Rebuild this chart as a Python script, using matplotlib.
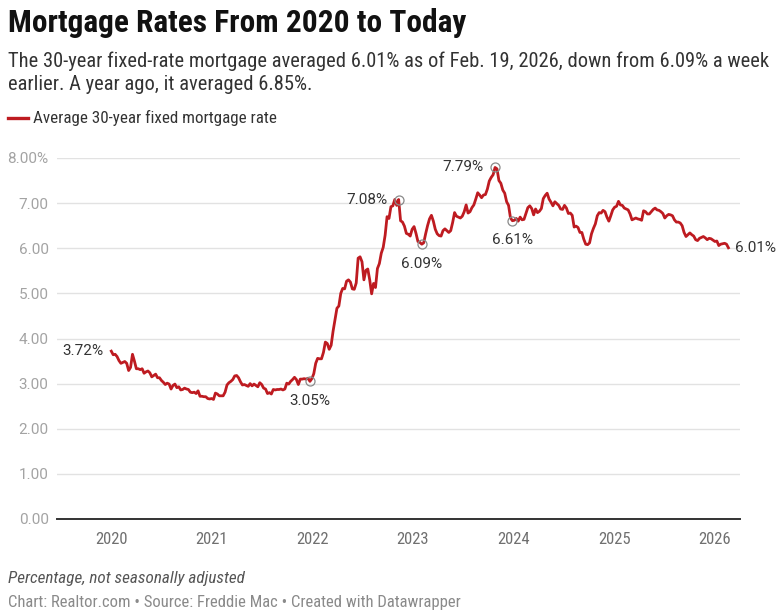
import matplotlib
matplotlib.use("Agg")
import matplotlib.pyplot as plt
import matplotlib.dates as mdates
import matplotlib.font_manager as fm
import pandas as pd

# ---------------- data (Freddie Mac PMMS, weekly, 30-yr fixed) ----------------
start_date = "2020-01-02"
rates_2020 = [3.72, 3.64, 3.65, 3.60, 3.51, 3.45, 3.47, 3.49, 3.45, 3.29, 3.36, 3.65, 3.50,
              3.33, 3.33, 3.31, 3.33, 3.23, 3.26, 3.28, 3.24, 3.15, 3.18, 3.21, 3.13, 3.13,
              3.07, 3.03, 2.98, 3.01, 2.99, 2.88, 2.96, 2.99, 2.91, 2.93, 2.86, 2.87, 2.90,
              2.88, 2.87, 2.81, 2.80, 2.81, 2.78, 2.84, 2.72, 2.72, 2.71, 2.71, 2.67, 2.66, 2.67]
rates_2021 = [2.65, 2.79, 2.77, 2.73, 2.73, 2.73, 2.81, 2.97, 3.02, 3.05, 3.09, 3.17,
              3.18, 3.13, 3.04, 2.97, 2.98, 2.96, 2.94, 3.00, 2.95, 2.99, 2.96, 2.93, 3.02,
              2.98, 2.90, 2.88, 2.78, 2.80, 2.77, 2.87, 2.86, 2.87, 2.87, 2.88, 2.86, 2.88, 3.01,
              2.99, 3.05, 3.09, 3.14, 3.09, 2.98, 3.10, 3.10, 3.11, 3.10, 3.12, 3.05, 3.11]
rates_2022 = [3.22, 3.45, 3.56, 3.55, 3.55, 3.69, 3.92, 3.89, 3.76, 3.85, 4.16, 4.42, 4.67,
              4.72, 5.00, 5.11, 5.10, 5.27, 5.30, 5.25, 5.10, 5.09, 5.23, 5.78, 5.81, 5.70,
              5.30, 5.51, 5.54, 5.30, 4.99, 5.22, 5.13, 5.55, 5.66, 5.89, 6.02, 6.29, 6.70,
              6.66, 6.92, 6.94, 7.08, 6.95, 7.08, 6.61, 6.58, 6.49, 6.33, 6.31, 6.27, 6.42]
rates_2023 = [6.48, 6.33, 6.15, 6.13, 6.09, 6.12, 6.32, 6.50, 6.65, 6.73, 6.60, 6.42, 6.32,
              6.28, 6.27, 6.39, 6.43, 6.39, 6.35, 6.39, 6.57, 6.79, 6.71, 6.69, 6.67, 6.71,
              6.81, 6.96, 6.78, 6.81, 6.90, 6.96, 7.09, 7.23, 7.18, 7.12, 7.18, 7.19, 7.31,
              7.49, 7.57, 7.63, 7.79, 7.76, 7.50, 7.44, 7.29, 7.22, 7.03, 6.95, 6.67, 6.61]
rates_2024 = [6.62, 6.66, 6.60, 6.69, 6.63, 6.64, 6.77, 6.90, 6.94, 6.88, 6.74, 6.87, 6.79,
              6.82, 6.88, 7.10, 7.17, 7.22, 7.09, 7.02, 6.94, 7.03, 6.99, 6.95, 6.87, 6.86,
              6.95, 6.89, 6.77, 6.78, 6.73, 6.47, 6.49, 6.46, 6.35, 6.35, 6.20, 6.09, 6.08,
              6.12, 6.32, 6.44, 6.54, 6.72, 6.79, 6.78, 6.84, 6.81, 6.69, 6.60, 6.72, 6.85]
rates_2025 = [6.91, 6.93, 7.04, 6.96, 6.95, 6.89, 6.87, 6.85, 6.76, 6.63, 6.65, 6.67, 6.65,
              6.64, 6.62, 6.83, 6.81, 6.76, 6.76, 6.81, 6.86, 6.89, 6.85, 6.84, 6.81, 6.77,
              6.67, 6.72, 6.75, 6.74, 6.72, 6.63, 6.58, 6.58, 6.56, 6.50, 6.35, 6.26, 6.30,
              6.34, 6.30, 6.27, 6.19, 6.17, 6.22, 6.24, 6.26, 6.23, 6.19, 6.22, 6.21, 6.18, 6.15]
rates_2026 = [6.16, 6.06, 6.09, 6.10, 6.11, 6.09, 6.01]

year_ticks = [2020, 2021, 2022, 2023, 2024, 2025, 2026]
y_ticks = [0, 1, 2, 3, 4, 5, 6, 7, 8]
y_tick_labels = ["0.00", "1.00", "2.00", "3.00", "4.00", "5.00", "6.00", "7.00", "8.00%"]

# highlighted points (date, label placement)
highlight_dates = ["2021-12-23", "2022-11-10", "2023-02-02", "2023-10-26", "2023-12-28"]
highlight_place = ["below", "left", "below", "left", "below"]

title = "Mortgage Rates From 2020 to Today"
subtitle_1 = "The 30-year fixed-rate mortgage averaged 6.01% as of Feb. 19, 2026, down from 6.09% a week"
subtitle_2 = "earlier. A year ago, it averaged 6.85%."
legend_label = "Average 30-year fixed mortgage rate"
note = "Percentage, not seasonally adjusted"
credit = "Chart: Realtor.com \u2022 Source: Freddie Mac \u2022 Created with Datawrapper"

rates = rates_2020 + rates_2021 + rates_2022 + rates_2023 + rates_2024 + rates_2025 + rates_2026
dates = pd.date_range(start_date, periods=len(rates), freq="7D")
series = pd.Series(rates, index=dates)

# ---------------- fonts ----------------
names = {f.name for f in fm.fontManager.ttflist}
COND = next((n for n in ["Roboto Condensed", "Liberation Sans Narrow", "Roboto"] if n in names), "DejaVu Sans")
REG = "Roboto" if "Roboto" in names else "DejaVu Sans"

RED = "#be1b21"
W, H = 780, 615

fig = plt.figure(figsize=(W / 100, H / 100), dpi=100)
renderer = fig.canvas.get_renderer()


def px(x, y):
    return x / W, 1 - y / H


def fit(t, target_px):
    w = t.get_window_extent(renderer=renderer).width
    t.set_fontsize(t.get_fontsize() * target_px / w)


# ---------------- header ----------------
t = fig.text(*px(8, 32), title, fontsize=20, fontweight="bold", family=COND,
             color="#111111", va="baseline", ha="left")
fit(t, 458)
t = fig.text(*px(8, 67), subtitle_1, fontsize=13, family=COND, color="#333333",
             va="baseline", ha="left")
fit(t, 757)
sub_fs = t.get_fontsize()
fig.text(*px(8, 90), subtitle_2, fontsize=sub_fs, family=COND, color="#333333",
         va="baseline", ha="left")

# legend
fig.add_artist(plt.Line2D([8 / W, 28 / W], [1 - 118 / H, 1 - 118 / H], color=RED, lw=2.4))
t = fig.text(*px(33, 118), legend_label, fontsize=11, family=COND, color="#333333",
             va="center", ha="left")
fit(t, 244)

# footer
t = fig.text(*px(8, 578), note, fontsize=10.5, family=COND, style="italic",
             color="#555555", va="center", ha="left")
fit(t, 237)
t = fig.text(*px(8, 603), credit, fontsize=10, family=COND, color="#8a8a8a",
             va="center", ha="left")
fit(t, 450)

# ---------------- axes ----------------
ax = fig.add_axes([57 / W, 1 - 519 / H, (740 - 57) / W, (519 - 158) / H])
ax.plot(series.index, series.values, color=RED, lw=2.0, solid_joinstyle="round", zorder=3)

ax.set_ylim(0, 8)
ax.set_xlim(pd.Timestamp("2019-06-19"), pd.Timestamp("2026-04-02"))
ax.set_yticks(y_ticks)
ax.set_yticklabels(y_tick_labels)
ax.set_xticks([pd.Timestamp(f"{y}-01-01") for y in year_ticks])
ax.set_xticklabels([str(y) for y in year_ticks])

for s in ["left", "right", "top"]:
    ax.spines[s].set_visible(False)
ax.spines["bottom"].set_color("#333333")
ax.spines["bottom"].set_linewidth(1.4)
ax.spines["bottom"].set_zorder(4)
ax.yaxis.grid(True, color="#e2e2e2", lw=1.0)
ax.set_axisbelow(True)
ax.tick_params(axis="both", length=0)
ax.tick_params(axis="y", pad=6, labelsize=11, labelcolor="#a3a3a3")
ax.tick_params(axis="x", pad=9, labelsize=12, labelcolor="#707070")
for lab in ax.get_yticklabels():
    lab.set_family(REG)
for lab in ax.get_xticklabels():
    lab.set_family(COND)

# highlighted points
lab_kw = dict(fontsize=11, family=REG, color="#333333")
for d, place in zip(highlight_dates, highlight_place):
    ts = pd.Timestamp(d)
    v = series.loc[ts]
    ax.plot([ts], [v], marker="o", ms=6.5, mfc="none", mec="#8a8a8a", mew=0.9, zorder=4)
    if place == "left":
        ax.annotate(f"{v:.2f}%", (ts, v), xytext=(-8, 0), textcoords="offset points",
                    ha="right", va="center", **lab_kw)
    else:
        ax.annotate(f"{v:.2f}%", (ts, v), xytext=(0, -14), textcoords="offset points",
                    ha="center", va="center", **lab_kw)

# first and last values
ax.annotate(f"{series.iloc[0]:.2f}%", (series.index[0], series.iloc[0]), xytext=(-6, 0),
            textcoords="offset points", ha="right", va="center", **lab_kw)
ax.annotate(f"{series.iloc[-1]:.2f}%", (series.index[-1], series.iloc[-1]), xytext=(5, 0),
            textcoords="offset points", ha="left", va="center", **lab_kw)

fig.savefig("out.png", dpi=100)
